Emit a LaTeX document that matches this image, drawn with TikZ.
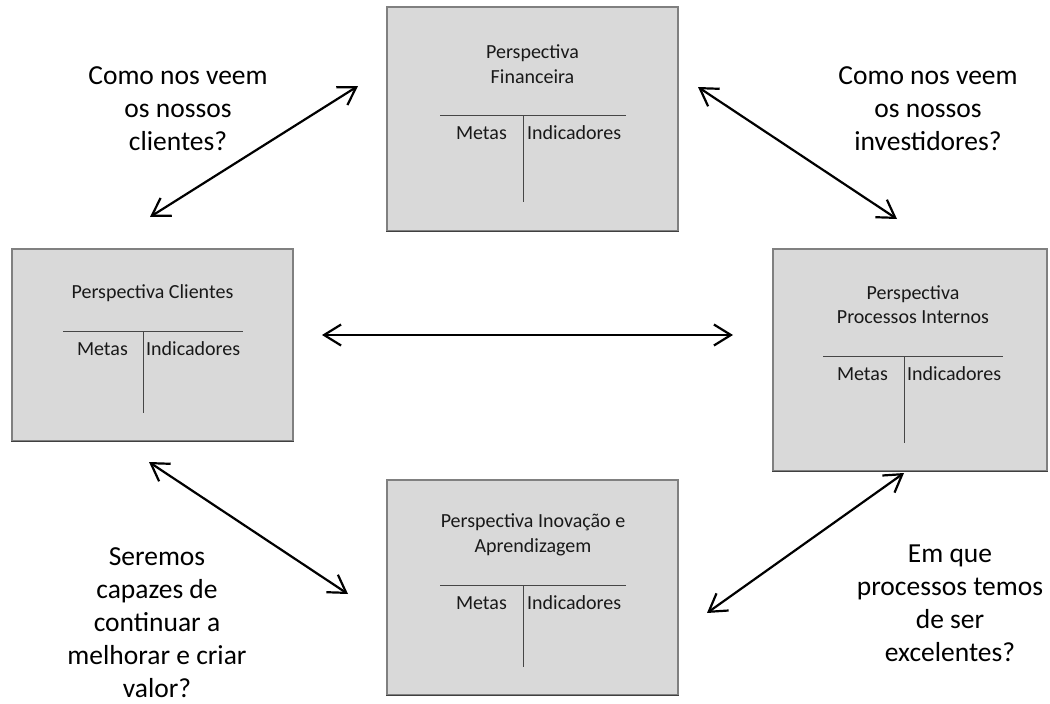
\documentclass[tikz,border=0pt]{standalone}
\usepackage{fontspec}
\setmainfont{Carlito}
\usetikzlibrary{arrows.meta}

\definecolor{boxfill}{RGB}{217,217,217}
\definecolor{boxedge}{RGB}{128,128,128}
\definecolor{boxshade}{RGB}{64,64,64}
\definecolor{tline}{RGB}{70,70,70}
\definecolor{boxtext}{RGB}{25,25,25}

\tikzset{
  persp/.style={draw=boxedge, fill=boxfill, line width=1.2pt, inner sep=0pt, rectangle},
  title/.style={font=\fontsize{20}{24.5}\selectfont, text=boxtext, align=center, inner sep=0pt},
  colhead/.style={font=\fontsize{20}{24.5}\selectfont, text=boxtext, inner sep=0pt},
  tcross/.style={draw=tline, line width=1pt},
  question/.style={font=\fontsize{27.5}{33}\selectfont, align=center, inner sep=0pt},
  link/.style={line width=2.2pt, {Straight Barb[length=17pt,width=21pt]}-{Straight Barb[length=17pt,width=21pt]}}
}

\begin{document}
\begin{tikzpicture}[x=1pt, y=-1pt]
\useasboundingbox (0,0) rectangle (1050,704);

% ---- perspective boxes ----
\node[persp, minimum width=291pt, minimum height=224pt] (fin)  at (532.5,119)   {};
\node[persp, minimum width=281pt, minimum height=192pt] (cli)  at (152.5,345)   {};
\node[persp, minimum width=274pt, minimum height=222pt] (proc) at (910,360)     {};
\node[persp, minimum width=291pt, minimum height=215pt] (inov) at (532.5,587.5) {};

% darker lower edges
\foreach \b in {fin,cli,proc,inov}
  \draw[boxshade, line width=1.6pt] (\b.south west) -- (\b.south east);

% ---- Financeira ----
\node[title] (finT) at (532.5,64) {Perspectiva\\Financeira};
\draw[tcross] (440,115) -- (626,115);
\draw[tcross] (523,115) -- (523,202);
\node[colhead, anchor=east] (finM) at (507,133) {Metas};
\node[colhead, anchor=west] (finI) at (527,133) {Indicadores};

% ---- Clientes ----
\node[title] (cliT) at (152.5,293) {Perspectiva Clientes};
\draw[tcross] (63,331) -- (243,331);
\draw[tcross] (143,331) -- (143,413);
\node[colhead, anchor=east] (cliM) at (128,349) {Metas};
\node[colhead, anchor=west] (cliI) at (146,349) {Indicadores};

% ---- Processos Internos ----
\node[title] (procT) at (913,304.5) {Perspectiva\\Processos Internos};
\draw[tcross] (823,356) -- (1003,356);
\draw[tcross] (904,356) -- (904,443);
\node[colhead, anchor=east] (procM) at (888,374) {Metas};
\node[colhead, anchor=west] (procI) at (907,374) {Indicadores};

% ---- Inovação e Aprendizagem ----
\node[title] (inovT) at (533,535) {Perspectiva Inovação e\\Aprendizagem};
\draw[tcross] (440,585) -- (626,585);
\draw[tcross] (523,585) -- (523,667);
\node[colhead, anchor=east] (inovM) at (507,603) {Metas};
\node[colhead, anchor=west] (inovI) at (527,603) {Indicadores};

% ---- questions ----
\node[question] (q1) at (178,109) {Como nos veem\\os nossos\\clientes?};
\node[question] (q2) at (928,109) {Como nos veem\\os nossos\\investidores?};
\node[question] (q3) at (157,623) {Seremos\\capazes de\\continuar a\\melhorar e criar\\valor?};
\node[question] (q4) at (950,603) {Em que\\processos temos\\de ser\\excelentes?};

% ---- connector end points ----
\coordinate (a1s) at (150,217);
\coordinate (a1e) at (358,86);
\coordinate (a2s) at (698,87);
\coordinate (a2e) at (897,219);
\coordinate (a3s) at (322,335);
\coordinate (a3e) at (733,335);
\coordinate (a4s) at (149,462);
\coordinate (a4e) at (348,594);
\coordinate (a5s) at (707,613);
\coordinate (a5e) at (904,473);

\draw[link] (a1s) -- (a1e);
\draw[link] (a2s) -- (a2e);
\draw[link] (a3s) -- (a3e);
\draw[link] (a4s) -- (a4e);
\draw[link] (a5s) -- (a5e);
\end{tikzpicture}
\end{document}
